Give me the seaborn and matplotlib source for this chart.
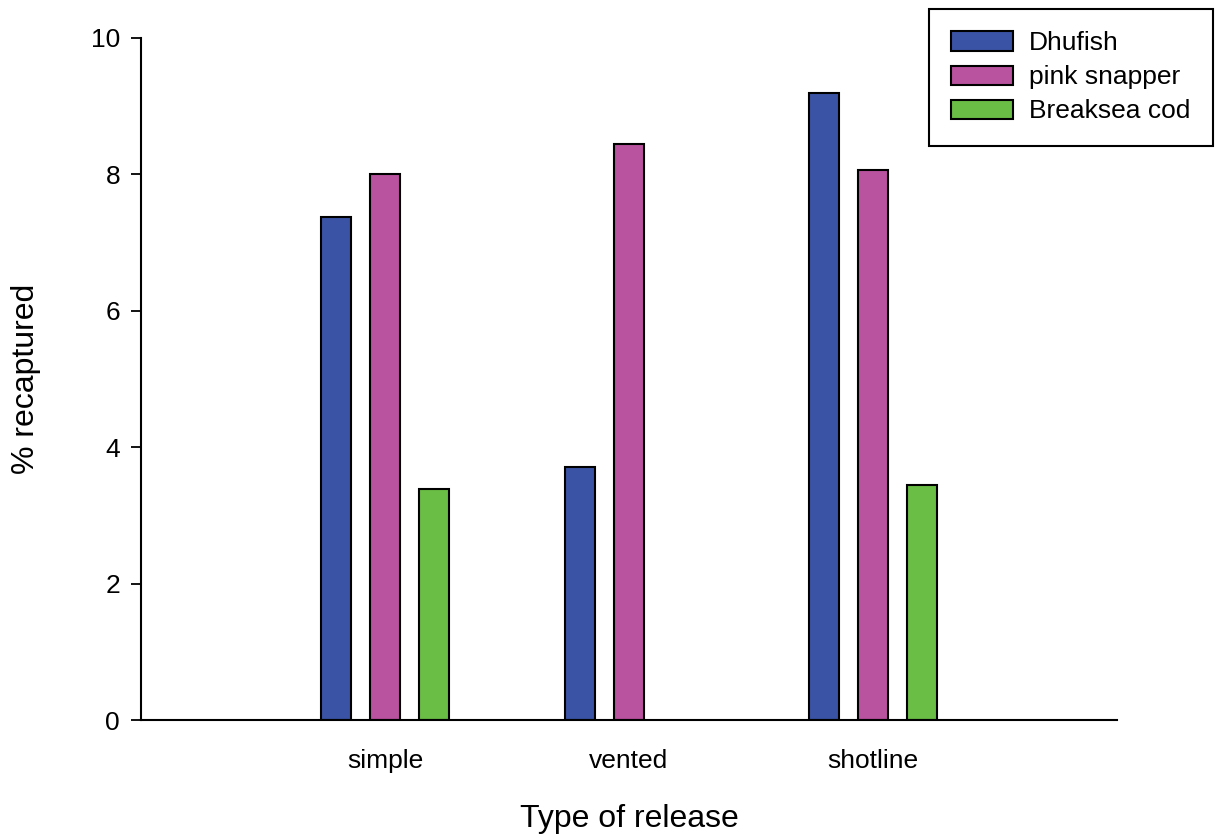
import numpy as np
import pandas as pd
import matplotlib
matplotlib.use('Agg')
import matplotlib.pyplot as plt
import seaborn as sns

releases = ['simple', 'vented', 'shotline']
species = ['Dhufish', 'pink snapper', 'Breaksea cod']
dhufish = [7.38, 3.71, 9.19]
pink_snapper = [8.00, 8.44, 8.06]
breaksea_cod = [3.39, np.nan, 3.45]
colours = ['#3A53A4', '#B9529F', '#6ABD45']

df = pd.DataFrame({
    'release': releases * 3,
    'species': [s for s in species for _ in releases],
    'pct': dhufish + pink_snapper + breaksea_cod,
})

sns.set_style('ticks')
plt.rcParams['font.family'] = ['Liberation Sans', 'DejaVu Sans']
plt.rcParams['text.color'] = 'black'
plt.rcParams['axes.labelcolor'] = 'black'
plt.rcParams['xtick.color'] = 'black'
plt.rcParams['ytick.color'] = 'black'

fig = plt.figure(figsize=(12.15, 8.38), dpi=100)
ax = fig.add_axes([0.116, 0.1408, 0.8033, 0.8139])

sns.barplot(data=df, x='release', y='pct', hue='species', order=releases,
            hue_order=species, palette=colours, saturation=1, width=0.6, gap=0.385,
            edgecolor='black', linewidth=1.5, ax=ax)

ax.set_xlim(-1, 3)
ax.set_ylim(0, 10)
ax.set_yticks([0, 2, 4, 6, 8, 10])
ax.tick_params(axis='y', labelsize=19, length=7, width=1.3, direction='out', pad=8)
ax.tick_params(axis='x', labelsize=19, length=0, pad=21)
for sp in ['top', 'right']:
    ax.spines[sp].set_visible(False)
for sp in ['left', 'bottom']:
    ax.spines[sp].set_linewidth(1.5)
    ax.spines[sp].set_color('black')

ax.set_xlabel('Type of release', fontsize=23, labelpad=22)
ax.set_ylabel('% recaptured', fontsize=23, labelpad=36)

leg = ax.legend(loc='upper left', bbox_to_anchor=(929 / 1215, 1 - 9 / 838),
                bbox_transform=fig.transFigure,
                fontsize=19, frameon=True, fancybox=False, edgecolor='black',
                handlelength=2.35, handleheight=0.76, borderpad=0.85, labelspacing=0.38,
                handletextpad=0.6, borderaxespad=0)
leg.get_frame().set_linewidth(1.5)
leg.get_frame().set_alpha(1)

fig.savefig('out.png', dpi=100)
